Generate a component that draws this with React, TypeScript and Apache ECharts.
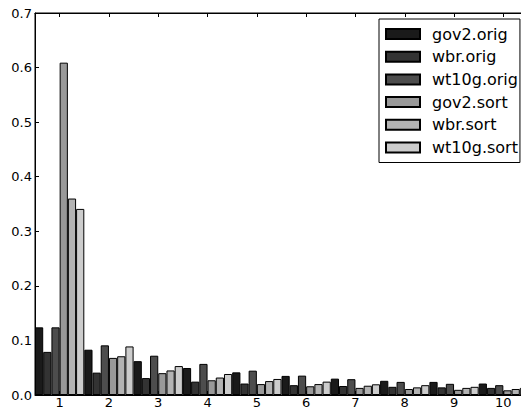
import React, { useEffect, useRef } from "react";
import * as echarts from "echarts";

const categories = ["1", "2", "3", "4", "5", "6", "7", "8", "9", "10"];
const seriesNames = ["gov2.orig", "wbr.orig", "wt10g.orig", "gov2.sort", "wbr.sort", "wt10g.sort"];
const gov2Orig = [0.124, 0.083, 0.062, 0.0495, 0.0415, 0.035, 0.03, 0.026, 0.024, 0.021];
const wbrOrig = [0.079, 0.041, 0.031, 0.0245, 0.021, 0.018, 0.0165, 0.015, 0.014, 0.013];
const wt10gOrig = [0.124, 0.091, 0.072, 0.057, 0.0446, 0.0355, 0.029, 0.024, 0.0205, 0.018];
const gov2Sort = [0.609, 0.068, 0.04, 0.027, 0.02, 0.016, 0.013, 0.011, 0.0095, 0.0086];
const wbrSort = [0.36, 0.071, 0.045, 0.032, 0.0255, 0.02, 0.017, 0.014, 0.013, 0.011];
const wt10gSort = [0.341, 0.089, 0.053, 0.0385, 0.0294, 0.0245, 0.0196, 0.018, 0.015, 0.013];
const seriesValues = [gov2Orig, wbrOrig, wt10gOrig, gov2Sort, wbrSort, wt10gSort];
const seriesColors = ["#1a1a1a", "#333333", "#4d4d4d", "#999999", "#b3b3b3", "#cccccc"];

const FONT = "DejaVu Sans";

export default function App() {
  const ref = useRef<HTMLDivElement>(null);
  useEffect(() => {
    if (!ref.current) return;
    const chart = echarts.init(ref.current, null, { renderer: "svg" });
    const axisLine = { show: true, lineStyle: { color: "#000", width: 1 } };
    chart.setOption({
      animation: false,
      backgroundColor: "#fff",
      textStyle: { fontFamily: FONT },
      grid: {
        left: 35,
        top: 13,
        bottom: 14,
        right: -7,
        containLabel: false,
        outerBoundsMode: "none",
        show: true,
        borderColor: "#000",
        borderWidth: 1,
        backgroundColor: "transparent",
      },
      legend: {
        orient: "vertical",
        left: 379,
        top: 19,
        padding: [7, 2, 7, 6],
        itemGap: 6.7,
        itemWidth: 34,
        itemHeight: 10,
        icon: "rect",
        borderColor: "#000",
        borderWidth: 1,
        backgroundColor: "#fff",
        data: seriesNames,
        textStyle: { fontFamily: FONT, fontSize: 16, color: "#000", padding: [0, 0, 0, 7] },
      },
      xAxis: [
        {
          type: "category",
          data: categories,
          position: "bottom",
          axisLine,
          axisTick: { show: true, inside: true, alignWithLabel: true, length: 4, lineStyle: { color: "#000" } },
          axisLabel: { color: "#000", fontFamily: FONT, fontSize: 13, margin: 1, lineHeight: 13 },
          splitLine: { show: false },
        },
        {
          type: "category",
          data: categories,
          position: "top",
          axisLine,
          axisTick: { show: true, inside: true, alignWithLabel: true, length: 4, lineStyle: { color: "#000" } },
          axisLabel: { show: false },
          splitLine: { show: false },
        },
      ],
      yAxis: {
        type: "value",
        min: 0,
        max: 0.7,
        interval: 0.1,
        axisLine,
        axisTick: { show: true, inside: true, length: 4, lineStyle: { color: "#000" } },
        axisLabel: { color: "#000", fontFamily: FONT, fontSize: 13, margin: 3, formatter: (v: number) => v.toFixed(1) },
        splitLine: { show: false },
      },
      series: seriesNames.map((name, i) => ({
        name,
        type: "bar",
        xAxisIndex: 0,
        data: seriesValues[i],
        barGap: "0%",
        barCategoryGap: "0%",
        itemStyle: { color: seriesColors[i], borderColor: "#000", borderWidth: 1 },
      })),
    });
    return () => chart.dispose();
  }, []);
  return <div ref={ref} style={{ position: "fixed", left: 0, top: 0, width: 521, height: 409 }} />;
}
